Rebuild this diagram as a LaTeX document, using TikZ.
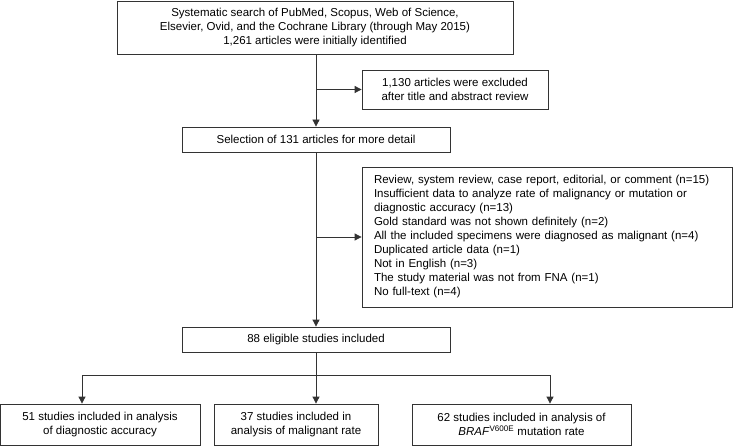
\documentclass[tikz,border=0pt]{standalone}
\usepackage{fontspec}
\setmainfont{Liberation Sans}
\usetikzlibrary{arrows.meta}
\begin{document}
\begin{tikzpicture}[x=1pt,y=-1pt,line width=0.8pt,
	box/.style={draw=black!80,align=center,inner sep=0pt,font=\fontsize{11.5}{14}\selectfont},
	arr/.style={draw=black!80,-{Triangle[length=7pt,width=7pt]}}]
			\def\xmain{316}
			\def\ybr{375}
			\useasboundingbox (0,0) rectangle (735,446);
			\node[box,minimum width=396,minimum height=53] (search) at (315,27.5) {Systematic search of PubMed, Scopus, Web of Science,\\Elsevier, Ovid, and the Cochrane Library (through May 2015)\\1,261 articles were initially identified};
			\node[box,minimum width=186,minimum height=39] (excl) at (455,89.5) {1,130 articles were excluded\\after title and abstract review};
			\node[box,minimum width=268,minimum height=25] (select) at (\xmain,139.5) {Selection of 131 articles for more detail};
			\node[box,align=left,text width=346,minimum width=370,minimum height=140,inner xsep=12] (reasons) at (547,237) {Review, system review, case report, editorial, or comment (n=15)\\Insufficient data to analyze rate of malignancy or mutation or\\diagnostic accuracy (n=13)\\Gold standard was not shown definitely (n=2)\\All the included specimens were diagnosed as malignant (n=4)\\Duplicated article data (n=1)\\Not in English (n=3)\\The study material was not from FNA (n=1)\\No full-text (n=4)};
			\node[box,minimum width=268,minimum height=25] (elig) at (\xmain,339.5) {88 eligible studies included};
			\node[box,minimum width=200,minimum height=41] (diag) at (100,424.5) {51 studies included in analysis\\of diagnostic accuracy};
			\node[box,minimum width=164,minimum height=41] (malig) at (296,424.5) {37 studies included in\\analysis of malignant rate};
			\node[box,minimum width=219,minimum height=41] (braf) at (521.5,424.5) {62 studies included in analysis of\\\textit{BRAF}\textsuperscript{V600E} mutation rate};
			\draw[arr] (search.south -| select.north) -- (select.north);
			\draw[arr] (excl.west -| select.north) -- (excl.west);
			\draw[arr] (select.south) -- (elig.north);
			\draw[arr] (reasons.west -| select.south) -- (reasons.west);
			\coordinate (split) at (\xmain,\ybr);
			\draw[draw=black!80] (elig.south) -- (split);
			\foreach \n/\x in {diag/82,malig/316,braf/550} {
				\coordinate (t\n) at (\x,\ybr);
				\draw[arr] (t\n) -- (\n.north -| t\n);
			}
			\draw[draw=black!80] (tdiag) -- (tbraf);
	\end{tikzpicture}
\end{document}
